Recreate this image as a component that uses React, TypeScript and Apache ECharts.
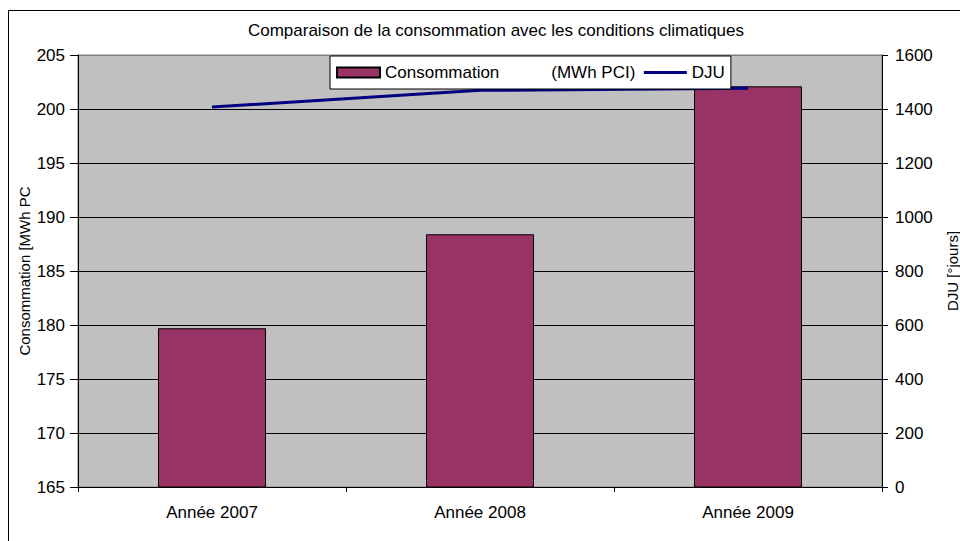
import React, { useEffect, useRef } from "react";
import * as echarts from "echarts";

const categories = ["Année 2007", "Année 2008", "Année 2009"];
const consommation = [179.7, 188.4, 202.1];
const dju = [1407, 1469, 1477];
const titleText = "Comparaison de la consommation avec les conditions climatiques";
const barName = "Consommation";
const barLegendLabel = "Consommation           (MWh PCI)";
const lineName = "DJU";
const leftAxisName = "Consommation [MWh PC";
const rightAxisName = "DJU [°jours]";

const FONT = "'Liberation Sans', Arial, sans-serif";

export default function App() {
  const ref = useRef<HTMLDivElement>(null);
  useEffect(() => {
    document.body.style.margin = "0";
    const chart = echarts.init(ref.current!, undefined, { renderer: "svg" });
    chart.setOption({
      animation: false,
      backgroundColor: "#ffffff",
      textStyle: { fontFamily: FONT, color: "#000" },
      title: {
        text: titleText,
        left: 491,
        textAlign: "center",
        top: 17,
        textStyle: { fontFamily: FONT, fontSize: 17, fontWeight: "normal", color: "#000" },
      },
      graphic: [
        {
          type: "rect",
          shape: { x: 8.5, y: 10.5, width: 1000, height: 600 },
          style: { fill: "none", stroke: "#000", lineWidth: 1 },
          silent: true,
          z: -1,
        },
      ],
      legend: {
        left: 330,
        top: 56,
        padding: [8, 6, 8, 6],
        itemGap: 7,
        itemWidth: 43,
        itemHeight: 10,
        backgroundColor: "#ffffff",
        borderColor: "#000",
        borderWidth: 1,
        borderRadius: 0,
        textStyle: { fontFamily: FONT, fontSize: 17, color: "#000" },
        formatter: (n: string) => (n === barName ? barLegendLabel : n),
        data: [
          { name: barName, icon: "rect" },
          {
            name: lineName,
            itemStyle: { opacity: 0 },
            lineStyle: { color: "#000080", width: 3 },
          },
        ],
      },
      grid: {
        left: 78,
        right: 78,
        top: 55,
        bottom: 54,
        containLabel: false,
        outerBoundsMode: "none",
        show: true,
        backgroundColor: "#C0C0C0",
        borderColor: "#808080",
        borderWidth: 1,
      },
      xAxis: {
        type: "category",
        data: categories,
        axisLine: { lineStyle: { color: "#000", width: 1 } },
        axisTick: { show: true, length: 5, lineStyle: { color: "#000" } },
        axisLabel: { margin: 17, fontFamily: FONT, fontSize: 17, color: "#000" },
      },
      yAxis: [
        {
          type: "value",
          min: 165,
          max: 205,
          interval: 5,
          name: leftAxisName,
          nameLocation: "middle",
          nameRotate: 90,
          nameGap: 46,
          nameMoveOverlap: false,
          nameTextStyle: { fontFamily: FONT, fontSize: 15, color: "#000" },
          axisLine: { show: true, lineStyle: { color: "#000", width: 1 } },
          axisTick: { show: true, length: 8, lineStyle: { color: "#000" } },
          axisLabel: { margin: 13, fontFamily: FONT, fontSize: 17, color: "#000" },
          splitLine: {
            show: true,
            lineStyle: {
              color: ["#000", "#000", "#000", "#000", "#000", "#000", "#000", "#000", "#808080"],
              width: 1,
            },
          },
        },
        {
          type: "value",
          min: 0,
          max: 1600,
          interval: 200,
          name: rightAxisName,
          nameLocation: "middle",
          nameRotate: 90,
          nameGap: 63,
          nameMoveOverlap: false,
          nameTextStyle: { fontFamily: FONT, fontSize: 15, color: "#000" },
          axisLine: { show: true, lineStyle: { color: "#000", width: 1 } },
          axisTick: { show: true, length: 6, lineStyle: { color: "#000" } },
          axisLabel: {
            margin: 13,
            fontFamily: FONT,
            fontSize: 17,
            color: "#000",
            formatter: (v: number) => String(v),
          },
          splitLine: { show: false },
        },
      ],
      series: [
        {
          name: barName,
          type: "bar",
          data: consommation,
          barWidth: 108,
          itemStyle: { color: "#993366", borderColor: "#000", borderWidth: 1 },
          z: 2,
        },
        {
          name: lineName,
          type: "line",
          yAxisIndex: 1,
          data: dju,
          symbol: "none",
          lineStyle: { color: "#000080", width: 3 },
          itemStyle: { color: "#000080" },
          z: 3,
        },
      ],
    });
    return () => chart.dispose();
  }, []);
  return <div ref={ref} style={{ width: 960, height: 541 }} />;
}
